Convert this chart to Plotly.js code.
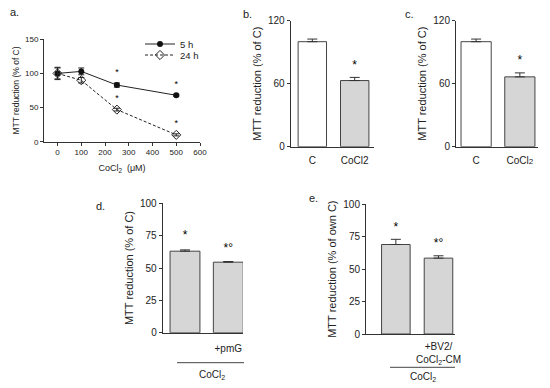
<!DOCTYPE html>
<html><head><meta charset="utf-8">
<script src="https://cdn.plot.ly/plotly-3.0.1.min.js"></script>
<style>html,body{margin:0;padding:0;background:#fff}#chart{width:550px;height:388px}</style>
</head><body><div id="chart"></div>
<script>
// Panel a
const doseA = [0, 100, 250, 500];
const mtt5h = [100, 103, 83, 68];
const err5h = [9, 5, 3, 1.5];
const mtt24h = [100, 90, 47, 10];
const err24h = [8, 4, 2, 1.5];
const starDoseA = [250, 500];
const starA5 = [101, 84];
const starA24 = [63.5, 26];
// Panel b
const catB = ['C', 'CoCl2'];
const valB = [100, 63];
const errB = [2.5, 3];
const starCatB = ['CoCl2'];
const starB = [77];
// Panel c
const catC = ['C', 'CoCl2'];
const valC = [100, 66.5];
const errC = [2.5, 3.8];
const starCatC = ['CoCl2'];
const starC = [81.5];
// Panel d
const catD = ['CoCl2', '+pmG'];
const tickDvals = ['+pmG'];
const valD = [63, 54.5];
const errD = [1, 0.5];
const starD = ['*', '*°'];
const starDy = [75, 64.5];
// Panel e
const catE = ['CoCl2', '+BV2/<br>CoCl<sub>2</sub>-CM'];
const tickEvals = ['+BV2/<br>CoCl<sub>2</sub>-CM'];
const valE = [69, 58.5];
const errE = [4, 1.8];
const starE = ['*', '*°'];
const starEy = [81.5, 69.5];

const W = 550, H = 388;
const px = v => v / W;
const py = v => 1 - v / H;
const FONT = 'Liberation Sans, Arial, sans-serif';
const TXT = '#222';
const AX = '#333';
const barLine = {color: '#444', width: 1};
const GRAY = '#d6d6d6';

function axisBase(extra) {
  return Object.assign({
    showline: true, linecolor: AX, linewidth: 1, showgrid: false, zeroline: false,
    ticks: 'outside', ticklen: 3, tickcolor: AX, tickwidth: 1,
    tickfont: {family: FONT, size: 10, color: TXT}, fixedrange: true
  }, extra);
}

const traces = [];
traces.push({x: doseA, y: mtt5h, type: 'scatter', mode: 'lines+markers', name: '5 h',
  xaxis: 'x', yaxis: 'y', legend: 'legend',
  line: {color: '#222', width: 1}, marker: {symbol: 'circle', size: 6, color: '#111'},
  error_y: {type: 'data', array: err5h, color: '#222', thickness: 1, width: 3}});
traces.push({x: doseA, y: mtt24h, type: 'scatter', mode: 'lines+markers', name: '24 h',
  xaxis: 'x', yaxis: 'y', legend: 'legend2',
  line: {color: '#222', width: 1, dash: '3px,2px'}, marker: {symbol: 'diamond-open', size: 7, color: '#222', line: {width: 1}},
  error_y: {type: 'data', array: err24h, color: '#222', thickness: 1, width: 3}});
traces.push({x: starDoseA, y: starA5, type: 'scatter', mode: 'text', text: starDoseA.map(() => '*'),
  xaxis: 'x', yaxis: 'y', showlegend: false, hoverinfo: 'skip',
  textfont: {family: FONT, size: 9, color: '#000'}});
traces.push({x: starDoseA, y: starA24, type: 'scatter', mode: 'text', text: starDoseA.map(() => '*'),
  xaxis: 'x', yaxis: 'y', showlegend: false, hoverinfo: 'skip',
  textfont: {family: FONT, size: 9, color: '#000'}});

function barPanel(cats, vals, errs, colors, widthU, xa, ya) {
  traces.push({x: cats, y: vals, type: 'bar', xaxis: xa, yaxis: ya, showlegend: false,
    width: widthU, marker: {color: colors, line: barLine},
    error_y: {type: 'data', symmetric: false, array: errs, arrayminus: errs.map(() => 0),
      color: '#333', thickness: 1, width: 5}});
}
function starTrace(cats, ys, txt, xa, ya, size) {
  traces.push({x: cats, y: ys, type: 'scatter', mode: 'text', text: txt,
    xaxis: xa, yaxis: ya, showlegend: false, hoverinfo: 'skip', cliponaxis: false,
    textfont: {family: FONT, size: size, color: '#000'}});
}
barPanel(catB, valB, errB, ['#ffffff', GRAY], 0.67, 'x2', 'y2');
starTrace(starCatB, starB, ['*'], 'x2', 'y2', 12);
barPanel(catC, valC, errC, ['#ffffff', GRAY], 0.69, 'x3', 'y3');
starTrace(starCatC, starC, ['*'], 'x3', 'y3', 12);
barPanel(catD, valD, errD, [GRAY, GRAY], 0.69, 'x4', 'y4');
starTrace(catD, starDy, starD, 'x4', 'y4', 12);
barPanel(catE, valE, errE, [GRAY, GRAY], 0.67, 'x5', 'y5');
starTrace(catE, starEy, starE, 'x5', 'y5', 12);

const yTitle = (t, s) => ({text: t, font: {family: FONT, size: s, color: TXT}, standoff: 4});
const legBase = (x, y) => ({x: px(x), y: py(y), xanchor: 'left', yanchor: 'middle', bgcolor: 'rgba(0,0,0,0)',
  font: {family: FONT, size: 9.5, color: TXT}, itemwidth: 30, tracegroupgap: 0});

const layout = {
  width: W, height: H, margin: {l: 0, r: 0, t: 0, b: 0},
  paper_bgcolor: '#fff', plot_bgcolor: 'rgba(0,0,0,0)',
  font: {family: FONT, color: TXT},
  showlegend: true,
  legend: legBase(140, 44),
  legend2: legBase(140, 55),
  xaxis: axisBase({domain: [px(44), px(200)], range: [-57, 600], tickvals: [0,100,200,300,400,500,600],
    tickfont: {family: FONT, size: 8, color: TXT}, anchor: 'y',
    title: {text: 'CoCl<sub>2</sub>  (μM)', font: {family: FONT, size: 9, color: TXT}, standoff: 8}}),
  yaxis: axisBase({domain: [py(141.7), py(39.3)], range: [0, 150], tickvals: [0, 50, 100, 150],
    tickfont: {family: FONT, size: 8, color: TXT}, anchor: 'x',
    title: yTitle('MTT reduction (% of C)', 8.5)}),
  xaxis2: axisBase({domain: [px(290.7), px(374)], range: [-0.51, 1.455], anchor: 'y2', ticks: '', ticklabelstandoff: 4,
    tickvals: catB, ticktext: ['C', 'CoCl2']}),
  yaxis2: axisBase({domain: [py(146.7), py(20.7)], range: [0, 120], tickvals: [0, 60, 120], anchor: 'x2',
    title: yTitle('MTT reduction (% of C)', 11)}),
  xaxis3: axisBase({domain: [px(456), px(538)], range: [-0.46, 1.415], anchor: 'y3', ticks: '', ticklabelstandoff: 4,
    tickvals: catC, ticktext: ['C', 'CoCl<span style="font-size:8px">2</span>']}),
  yaxis3: axisBase({domain: [py(146.7), py(20.7)], range: [0, 120], tickvals: [0, 60, 120], anchor: 'x3',
    title: yTitle('MTT reduction (% of C)', 11)}),
  xaxis4: axisBase({domain: [px(162.7), px(243)], range: [-0.515, 1.34], anchor: 'y4', ticks: '', ticklabelstandoff: 6,
    type: 'category', tickvals: tickDvals}),
  yaxis4: axisBase({domain: [py(332.7), py(203.3)], range: [0, 100], tickvals: [0, 25, 50, 75, 100], anchor: 'x4',
    title: yTitle('MTT reduction (% of C)', 11)}),
  xaxis5: axisBase({domain: [px(366), px(455)], range: [-0.70, 1.387], anchor: 'y5', ticks: '', ticklabelstandoff: 3,
    type: 'category', tickvals: tickEvals}),
  yaxis5: axisBase({domain: [py(334), py(204.3)], range: [0, 100], tickvals: [0, 25, 50, 75, 100], anchor: 'x5',
    title: yTitle('MTT reduction (% of own C)', 11)}),
  shapes: [
    {type: 'line', xref: 'paper', yref: 'paper', x0: px(177), x1: px(244), y0: py(362.7), y1: py(362.7), line: {color: '#444', width: 1}},
    {type: 'line', xref: 'paper', yref: 'paper', x0: px(390), x1: px(455), y0: py(367.3), y1: py(367.3), line: {color: '#444', width: 1}}
  ],
  annotations: [
    {text: 'a.', x: px(8), y: py(12), xref: 'paper', yref: 'paper', xanchor: 'left', yanchor: 'middle', showarrow: false, font: {family: FONT, size: 11, color: TXT}},
    {text: 'b.', x: px(241), y: py(14), xref: 'paper', yref: 'paper', xanchor: 'left', yanchor: 'middle', showarrow: false, font: {family: FONT, size: 11, color: TXT}},
    {text: 'c.', x: px(403), y: py(14), xref: 'paper', yref: 'paper', xanchor: 'left', yanchor: 'middle', showarrow: false, font: {family: FONT, size: 11, color: TXT}},
    {text: 'd.', x: px(94), y: py(206), xref: 'paper', yref: 'paper', xanchor: 'left', yanchor: 'middle', showarrow: false, font: {family: FONT, size: 11, color: TXT}},
    {text: 'e.', x: px(307), y: py(198), xref: 'paper', yref: 'paper', xanchor: 'left', yanchor: 'middle', showarrow: false, font: {family: FONT, size: 11, color: TXT}},
    {text: 'CoCl<sub>2</sub>', x: px(211.7), y: py(375), xref: 'paper', yref: 'paper', xanchor: 'center', yanchor: 'middle', showarrow: false, font: {family: FONT, size: 10, color: TXT}},
    {text: 'CoCl<sub>2</sub>', x: px(422.7), y: py(377), xref: 'paper', yref: 'paper', xanchor: 'center', yanchor: 'middle', showarrow: false, font: {family: FONT, size: 10, color: TXT}}
  ]
};

Plotly.newPlot('chart', traces, layout, {staticPlot: true, displayModeBar: false});
</script></body></html>
